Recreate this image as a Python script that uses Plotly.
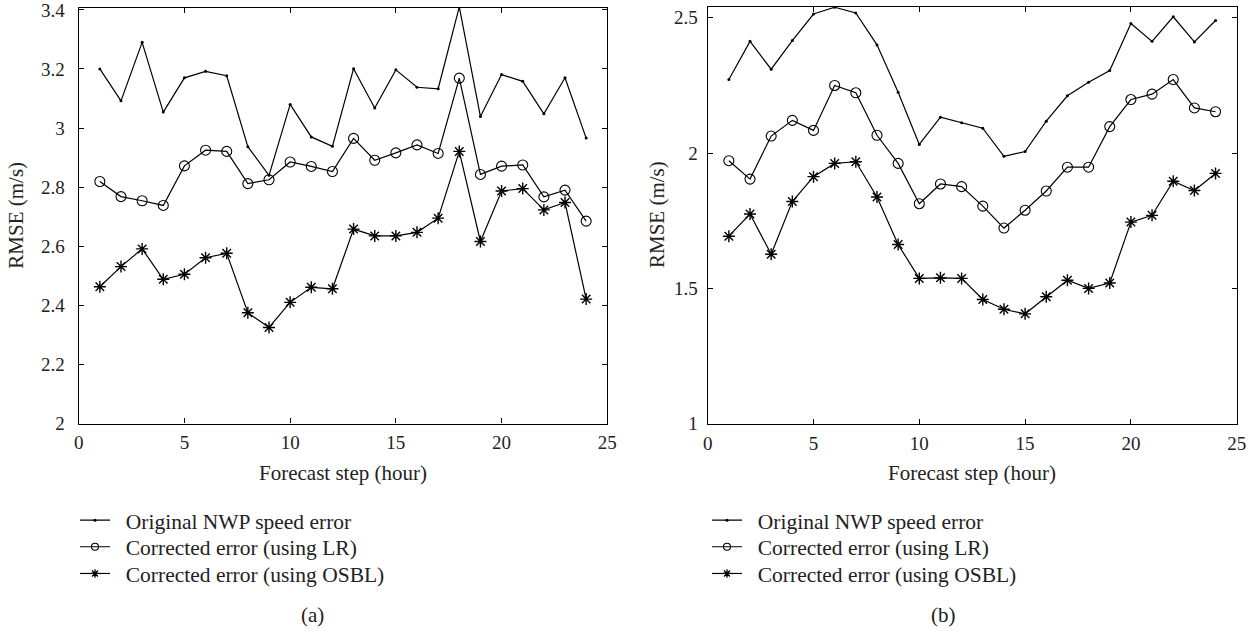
import plotly.graph_objects as go

steps = list(range(1, 25))

# Panel (a)
a_nwp = [3.200, 3.092, 3.290, 3.054, 3.170, 3.192, 3.177, 2.937, 2.840, 3.080, 2.970, 2.938,
         3.201, 3.068, 3.197, 3.138, 3.133, 3.410, 3.039, 3.181, 3.158, 3.048, 3.170, 2.966]
a_lr = [2.819, 2.768, 2.754, 2.738, 2.872, 2.925, 2.921, 2.812, 2.825, 2.885, 2.870, 2.853,
        2.965, 2.891, 2.916, 2.943, 2.914, 3.169, 2.843, 2.871, 2.875, 2.767, 2.790, 2.685]
a_osbl = [2.463, 2.531, 2.591, 2.488, 2.505, 2.561, 2.576, 2.375, 2.325, 2.410, 2.461, 2.456,
          2.658, 2.635, 2.635, 2.647, 2.695, 2.921, 2.616, 2.787, 2.795, 2.723, 2.748, 2.421]

# Panel (b)
b_nwp = [2.272, 2.413, 2.310, 2.416, 2.514, 2.539, 2.518, 2.400, 2.225, 2.032, 2.133, 2.112,
         2.092, 1.988, 2.006, 2.118, 2.212, 2.262, 2.305, 2.479, 2.413, 2.504, 2.411, 2.490]
b_lr = [1.972, 1.904, 2.063, 2.121, 2.084, 2.250, 2.223, 2.066, 1.962, 1.813, 1.886, 1.876,
        1.804, 1.723, 1.789, 1.860, 1.948, 1.948, 2.098, 2.198, 2.218, 2.272, 2.167, 2.153]
b_osbl = [1.693, 1.775, 1.626, 1.821, 1.913, 1.962, 1.968, 1.838, 1.662, 1.537, 1.539, 1.537,
          1.459, 1.423, 1.406, 1.469, 1.530, 1.500, 1.520, 1.745, 1.770, 1.896, 1.862, 1.925]

names = ["Original NWP speed error", "Corrected error (using LR)", "Corrected error (using OSBL)"]
x_ticks = [0, 5, 10, 15, 20, 25]
a_yticks = [2, 2.2, 2.4, 2.6, 2.8, 3, 3.2, 3.4]
b_yticks = [1, 1.5, 2, 2.5]

FONT = "Liberation Serif, Times New Roman, Tinos, serif"
W, H = 1259, 631

styles = [
    dict(symbol="circle", size=3, line=dict(width=0), color="black"),
    dict(symbol="circle-open", size=10, line=dict(width=1.1, color="black"), color="black"),
    dict(symbol="asterisk-open", size=10, line=dict(width=1.4, color="black"), color="black"),
]
legend_styles = [
    dict(symbol="circle", size=3, line=dict(width=0), color="black"),
    dict(symbol="circle-open", size=7, line=dict(width=1.1, color="black"), color="black"),
    dict(symbol="asterisk-open", size=7, line=dict(width=1.3, color="black"), color="black"),
]

def px_x(p):
    return p / W

def px_y(p):
    return 1 - p / H

fig = go.Figure()
panels = [("x", "y", ["legend", "legend2", "legend3"], [a_nwp, a_lr, a_osbl]),
          ("x2", "y2", ["legend4", "legend5", "legend6"], [b_nwp, b_lr, b_osbl])]
for xa, ya, lgs, series in panels:
    for name, vals, st in zip(names, series, styles):
        fig.add_trace(go.Scatter(x=steps, y=vals, xaxis=xa, yaxis=ya, mode="lines+markers",
                                 line=dict(color="black", width=1.2), marker=st,
                                 name=name, showlegend=False))
    for name, st, lg in zip(names, legend_styles, lgs):
        fig.add_trace(go.Scatter(x=[None], y=[None], xaxis=xa, yaxis=ya, mode="lines+markers",
                                 line=dict(color="black", width=1.2), marker=st,
                                 name="\u00a0\u00a0" + name, legend=lg, showlegend=True))

axis_common = dict(showline=True, linecolor="black", linewidth=1.3, mirror="ticks",
                   ticks="inside", ticklen=5, tickwidth=1, tickcolor="black",
                   showgrid=False, zeroline=False, ticklabeloverflow="allow", automargin=False,
                   tickfont=dict(family=FONT, size=19, color="#222"))

legend_common = dict(xanchor="left", yanchor="top", font=dict(family=FONT, size=21.5, color="#222"),
                     itemwidth=30, bgcolor="rgba(0,0,0,0)", borderwidth=0)
row_tops = [499.7, 526.3, 553.0]
legends = {}
for i, top in enumerate(row_tops):
    legends["legend" if i == 0 else "legend%d" % (i + 1)] = dict(x=px_x(75), y=px_y(top), **legend_common)
    legends["legend%d" % (i + 4)] = dict(x=px_x(707), y=px_y(top), **legend_common)

fig.update_layout(
    width=W, height=H, margin=dict(l=0, r=0, t=0, b=0, autoexpand=False),
    paper_bgcolor="white", plot_bgcolor="white",
    font=dict(family=FONT, color="#222"),
    xaxis=dict(domain=[px_x(78.7), px_x(607.3)], range=[0, 25], tickvals=x_ticks,
               anchor="y", ticklabelstandoff=2, **axis_common),
    yaxis=dict(domain=[px_y(423.5), px_y(7.5)], range=[2, 3.408], tickvals=a_yticks,
               anchor="x", ticklabelstandoff=9, **axis_common),
    xaxis2=dict(domain=[px_x(707.7), px_x(1236.7)], range=[0, 25], tickvals=x_ticks,
                anchor="y2", ticklabelstandoff=2, **axis_common),
    yaxis2=dict(domain=[px_y(423.7), px_y(7.0)], range=[1, 2.54], tickvals=b_yticks,
                anchor="x2", ticklabelstandoff=5, **axis_common),
    **legends,
)

annots = [
    ("Forecast step (hour)", 343, 473, 0),
    ("Forecast step (hour)", 972, 473, 0),
    ("RMSE (m/s)", 15.7, 215, -90),
    ("RMSE (m/s)", 657, 215, -90),
    ("(a)", 312, 615, 0),
    ("(b)", 943, 615, 0),
]
for text, x, y, ang in annots:
    fig.add_annotation(text=text, x=px_x(x), y=px_y(y), xref="paper", yref="paper",
                       xanchor="center", yanchor="middle", showarrow=False, textangle=ang,
                       font=dict(family=FONT, size=21, color="#222"))

fig.write_html("out.html")
